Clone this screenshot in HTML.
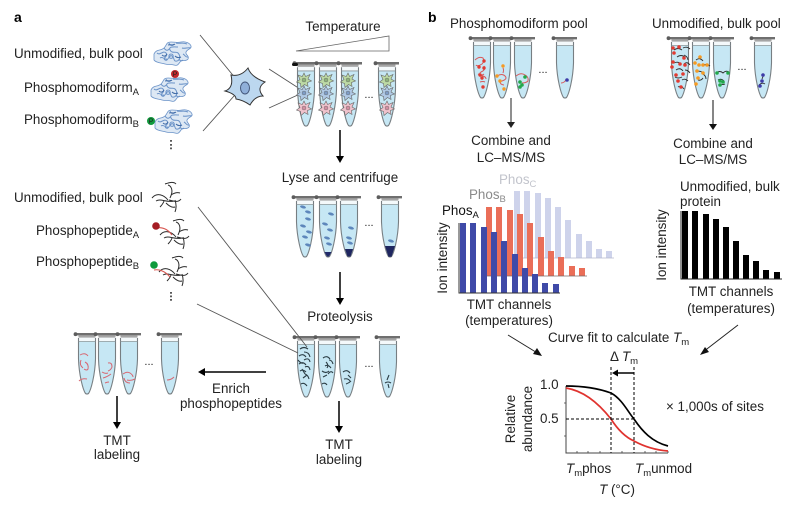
<!DOCTYPE html>
<html><head><meta charset="utf-8"><style>
html,body{margin:0;padding:0;background:#fff}
svg{display:block;filter:blur(.3px)}
text{font-family:"Liberation Sans",sans-serif;font-size:13.4px;fill:#222}
.m{text-anchor:middle}
.s{font-size:9.5px}
</style></head><body>
<svg width="797" height="511" viewBox="0 0 797 511" xmlns="http://www.w3.org/2000/svg">
<defs>
<g id="tube">
<path d="M-8.5,5V26C-8,42-4,57-1.5,60.5Q0,61.5 1.500,60.500C4,57 8,42 8.500,26V5Z" fill="#c6e7f4"/>
<rect x="-8" y="4" width="16" height="4.500" fill="#f4f9fb"/>
<path d="M-8.500,5V26C-8,42-4,57-1.500,60.500Q0,61.500 1.500,60.500C4,57 8,42 8.500,26V5" fill="none" stroke="#777e82" stroke-width="1.100"/>
<path d="M-8.500,8.500H8.500" stroke="#8a9599" stroke-width=".8"/>
<rect x="-11" y="0" width="23" height="2.400" fill="#6f6f6f"/>
<rect x="-8.500" y="2.400" width="17" height="2.200" fill="#a5a5a5"/>
<circle cx="-11.500" cy="1.200" r="1.900" fill="#5c5c5c"/>
</g>
<g id="prot" fill="none" stroke="#6b93c8" stroke-width="1">
<path d="M-19,2c2-5 7-3 10-6s2-6 7-6 6,1 10,0 9,1 10,4-4,3-5,6 4,4 2,7-6,0-8,3-3,4-6,3-6,0-9-1-9-1-11-4z" fill="#dde8f4" stroke-width=".8"/>
<path d="M-16,1c3,3 6-3 9,0s-4,5-1,7 4-6 7-4 1,6 5,5 3-6 1-8-6,1-8-3 5-3 8-3M-9,-4c2,3 4,3 6,0M5,8c2-1 3,2 5,0M-13,6c3-2 4,2 7,1M3,-9c3,1 7-1 11,1M-4,-9c1,3 4,3 5,1M9,-4c3,1 6-1 9,0M10,2c2,1 3,4 5,3M-2,2a2.200,2.200 0 1 0 .1,0"/>
<path d="M-11,3c2,2 4,1 5,-1M2,4c2,2 4,2 6,1M-5,-7c3,-1 5,1 7,-1" stroke="#3f6aa6"/>
</g>
<g id="pep" fill="none" stroke="#2b2b2b" stroke-width="1">
<path d="M-16,0c5-6 12-3 16,2M-12,3c5-3 10,2 18,0M0,-13c3,1 6,5 2,13M-3,-14c3-1 8-3 11,0M3,-3c3-2 6-3 9,-2M1,2c5,1 9,3 12,-1M-2,5c3,3 6,5 9,4M7,2c1,3 2,7 0,12M-4,3c-1,3-2,4-4,6"/>
</g>
<g id="cellg"><path d="M0,-7L1.600,-3.500 6,-5.500 4,-1 7.500,1 3.500,2.500 4,6.500 0.500,4.500-3,7.500-3.500,3.500-7.500,2-4,-0.500-6,-5-1.800,-3.500Z" fill="#bcd9a4" stroke="#666" stroke-width=".6"/><circle r="2" fill="#8fb47a" stroke="#666" stroke-width=".4"/></g>
<g id="cellb"><path d="M0,-7L1.600,-3.500 6,-5.500 4,-1 7.500,1 3.500,2.500 4,6.500 0.500,4.500-3,7.500-3.500,3.500-7.500,2-4,-0.500-6,-5-1.800,-3.500Z" fill="#afc8e4" stroke="#666" stroke-width=".6"/><circle r="2" fill="#7e9cc6" stroke="#666" stroke-width=".4"/></g>
<g id="cellr"><path d="M0,-7L1.600,-3.500 6,-5.500 4,-1 7.500,1 3.500,2.500 4,6.500 0.500,4.500-3,7.500-3.500,3.500-7.500,2-4,-0.500-6,-5-1.800,-3.500Z" fill="#efc2cc" stroke="#666" stroke-width=".6"/><circle r="2" fill="#d38fa2" stroke="#666" stroke-width=".4"/></g>
<g id="cells"><use href="#cellg" y="18"/><use href="#cellb" y="31"/><use href="#cellr" y="46"/></g>
<ellipse id="blob" rx="3" ry="1.400" fill="#5d86bb" transform="rotate(15)"/>
</defs>

<text x="14" y="22" style="font-size:14px;font-weight:bold;fill:#000">a</text>
<text x="428" y="22" style="font-size:14px;font-weight:bold;fill:#000">b</text>

<!-- panel a left labels -->
<text x="14" y="58">Unmodified, bulk pool</text>
<text x="24" y="92">Phosphomodiform<tspan class="s" dy="3">A</tspan></text>
<text x="24" y="124">Phosphomodiform<tspan class="s" dy="3">B</tspan></text>
<use href="#prot" x="173" y="52"/>
<use href="#prot" x="170" y="88"/>
<use href="#prot" x="174" y="120"/>
<circle cx="175" cy="74" r="4" fill="#c1272d"/>
<circle cx="151" cy="121" r="4" fill="#109a3c"/>
<text x="175" y="76.500" class="m" style="font-size:7px">P</text>
<text x="151" y="123.500" class="m" style="font-size:7px">P</text>
<path d="M171,140v1.800M171,144v1.800M171,147.500v1.800" stroke="#222" stroke-width="1.500"/>

<!-- cell -->
<path d="M200,35L236,79M203,131L234,96M269,69L300,89M269,108L300,94" stroke="#555" stroke-width=".9" fill="none"/>
<path d="M248,68Q251,77 265,82Q256,88 263,96Q255,96 250,105Q243,100 236,99Q236,94 225,91Q234,88 231,75Q241,77 248,68Z" fill="#bcd7ef" stroke="#333" stroke-width="1"/>
<ellipse cx="245" cy="88" rx="4.500" ry="6" fill="#8fafd9" stroke="#44577a"/>

<!-- temperature -->
<text x="343" y="31" class="m">Temperature</text>
<path d="M296,51L389,36V51Z" fill="#fff" stroke="#666" stroke-width=".8"/>
<g transform="translate(0,62) scale(1,1.050)"><use href="#tube" x="306"/><use href="#tube" x="328"/><use href="#tube" x="350"/><use href="#tube" x="387"/></g>
<rect x="292" y="63" width="6" height="3" rx="1.500" fill="#111"/>
<g transform="translate(0,62)"><use href="#cells" x="304"/><use href="#cells" x="326"/><use href="#cells" x="348"/><use href="#cells" x="387"/></g>
<text x="369" y="98" class="m" style="font-size:11px">...</text>

<path d="M340,130V158" stroke="#000" stroke-width="1.500"/><path d="M336,156L340,163 344,156Z" fill="#000"/>
<text x="340" y="182" class="m">Lyse and centrifuge</text>
<g transform="translate(0,196)"><use href="#tube" x="305"/><use href="#tube" x="328"/><use href="#tube" x="349"/><use href="#tube" x="390"/></g>
<g>
<use href="#blob" x="303" y="207"/><use href="#blob" x="308" y="212"/><use href="#blob" x="308" y="219"/><use href="#blob" x="303" y="226"/><use href="#blob" x="309" y="232"/><use href="#blob" x="305" y="237"/><use href="#blob" x="308" y="245"/>
<use href="#blob" x="331" y="214"/><use href="#blob" x="325" y="224"/><use href="#blob" x="330" y="230"/><use href="#blob" x="327" y="238"/><use href="#blob" x="329" y="244"/>
<use href="#blob" x="351" y="228"/><use href="#blob" x="349" y="238"/><use href="#blob" x="350" y="243"/>
<use href="#blob" x="391" y="241"/>
<path d="M324.500,252H331.500L329,256.500H327Z" fill="#222a6a"/>
<path d="M345,249H353L350.500,256.500H347.500Z" fill="#1f2660"/>
<path d="M385,246H395L391.500,256.800H388.500Z" fill="#1f2660"/>
</g>
<text x="369" y="226" class="m" style="font-size:11px">...</text>

<path d="M340,272V300" stroke="#000" stroke-width="1.500"/><path d="M336,298L340,305 344,298Z" fill="#000"/>
<text x="340" y="321" class="m">Proteolysis</text>
<g transform="translate(0,336)"><use href="#tube" x="306"/><use href="#tube" x="327"/><use href="#tube" x="348"/><use href="#tube" x="388"/></g>
<g fill="none" stroke="#2c3e46" stroke-width="1.100">
<path d="M300,349q4-3 8,0M304,352q5,0 6,5M299,356q4-3 7,1M304,360q5-3 6,2M299,364q4-3 7,1M305,367q4-2 5,3M300,371q3-2 6,1M305,374q3,1 4,5M301,384q3-2 6,2M298,360q3,4 6,3M303,378l4,-3M302,369l3,5"/>
<path d="M323,358q4-3 7,1M329,360q3,0 4,4M325,366q3-2 6,2M322,371q4,3 7,0M328,374q3-4 5,-1M322,384q3-2 5,1M326,362q3,3 1,6M323,377l4,-2"/>
<path d="M343,372q4-3 7,1M348,375l3,3M344,379q4-1 6,2M346,384q3-1 5,-3"/>
<path d="M389,375l-2,5M385,383q3-2 6,0M388,384l1,4"/>
</g>
<text x="369" y="367" class="m" style="font-size:11px">...</text>
<path d="M339,401V428" stroke="#000" stroke-width="1.500"/><path d="M335,426L339,433 343,426Z" fill="#000"/>
<text x="339" y="449" class="m">TMT</text>
<text x="339" y="464" class="m">labeling</text>

<!-- peptides -->
<text x="14" y="202">Unmodified, bulk pool</text>
<text x="36" y="235">Phosphopeptide<tspan class="s" dy="3">A</tspan></text>
<text x="36" y="266">Phosphopeptide<tspan class="s" dy="3">B</tspan></text>
<use href="#pep" x="168" y="198"/>
<use href="#pep" x="176" y="235"/>
<use href="#pep" x="175" y="272"/>
<path d="M156,228c5-1 11,0 16,7" fill="none" stroke="#d8554f" stroke-width="1.100"/>
<path d="M154,270c5-1 11,1 16,7" fill="none" stroke="#d8554f" stroke-width="1.100"/>
<circle cx="156" cy="226" r="3.800" fill="#a51d24"/>
<circle cx="154" cy="265" r="3.800" fill="#109a3c"/>
<path d="M171,292v1.800M171,295.500v1.800M171,299v1.800" stroke="#222" stroke-width="1.500"/>
<path d="M198,207L307,347M197,304L298,353" stroke="#555" stroke-width=".9" fill="none"/>

<!-- enrich -->
<g transform="translate(0,333)"><use href="#tube" x="87"/><use href="#tube" x="107"/><use href="#tube" x="129"/><use href="#tube" x="170"/></g>
<g fill="none" stroke="#d86670" stroke-width="1">
<path d="M80,355q5-3 8,1M81,360q-2,5 2,8M85,362q4,2 3,7q-1,2-4,0M79,381q3-3 8-2"/>
<path d="M108,363q4-1 4,4q-1,3-4,4M102,372q3,2 6,1M103,378q4,-1 8,-4M105,383q2-1 4-1"/>
<path d="M123,374q4-3 7-1q3,2 3,4M124,378q1,5 6,5M127,380q4,1 8-1"/>
<path d="M167,380q4,0 7-3"/>
</g>
<text x="149" y="365" class="m" style="font-size:11px">...</text>
<path d="M266,372H203" stroke="#000" stroke-width="1.500"/><path d="M205,368L198,372 205,376Z" fill="#000"/>
<text x="231" y="393" class="m">Enrich</text>
<text x="231" y="408" class="m">phosphopeptides</text>
<path d="M117,396V424" stroke="#000" stroke-width="1.500"/><path d="M113,422L117,429 121,422Z" fill="#000"/>
<text x="117" y="445" class="m">TMT</text>
<text x="117" y="459" class="m">labeling</text>

<!-- panel b tubes -->
<text x="450" y="28">Phosphomodiform pool</text>
<g transform="translate(0,37)"><use href="#tube" x="482"/><use href="#tube" x="502"/><use href="#tube" x="523"/><use href="#tube" x="565"/></g>
<g fill="none" stroke="#d8595a" stroke-width="1">
<path d="M475,60q4-4 8-2q2,3-1,6q-5,3-6,1M484,66q2,4-3,6q-3,2 2,4q3,1 3,3M478,74q4,2 6,0M480,82q3-1 5,0"/>
<path d="M497,76q5-3 8,0q3,3-3,5q-3,0-1,3q2,1 3,1M503,68q1,2 0,5"/>
<path d="M516,76q5-4 9-1q4,2 3,6q-2,2-6,2"/>
<path d="M561,83q3,0 5,-3"/>
</g>
<g fill="#e13b32"><circle cx="484" cy="61" r="1.700"/><circle cx="479" cy="67" r="1.700"/><circle cx="484" cy="68" r="1.700"/><circle cx="480" cy="75" r="1.700"/><circle cx="482" cy="78" r="1.700"/><circle cx="483" cy="87" r="1.700"/></g>
<g fill="#f59a23"><circle cx="503" cy="66" r="1.700"/><circle cx="497" cy="76" r="1.700"/><circle cx="500" cy="81" r="1.700"/><circle cx="504" cy="89" r="1.700"/></g>
<g fill="#22a84a"><circle cx="525" cy="77" r="1.800"/><circle cx="520" cy="82" r="1.800"/><circle cx="520" cy="87" r="1.800"/><circle cx="522" cy="85" r="1.800"/></g>
<circle cx="567" cy="80" r="1.800" fill="#3d3ba8"/>
<text x="543" y="73" class="m" style="font-size:11px">...</text>
<path d="M511,98V124" stroke="#333" stroke-width="1.100"/><path d="M507,122L511,128 515,122Z" fill="#222"/>
<text x="511" y="145" class="m">Combine and</text>
<text x="511" y="162" class="m">LC–MS/MS</text>

<text x="652" y="28">Unmodified, bulk pool</text>
<g transform="translate(0,37)"><use href="#tube" x="680"/><use href="#tube" x="701"/><use href="#tube" x="722"/><use href="#tube" x="763"/></g>
<g fill="none" stroke="#2b2b2b" stroke-width=".9">
<path d="M674,50q4-3 8,0M683,48q4-2 7,1M677,57q4-3 8,0M684,55q4,2 4,5M674,63q4-2 7,1M684,64q3-3 6,1M676,70q4-3 7,1M685,70q3,0 5,3M675,77q3,2 7,0M682,80q3-2 6,1M678,87q3-2 6,2"/>
<path d="M696,60q4-3 7,1M702,66q4-3 8,0M696,72q4-2 7,1M703,74q3,2 3,5M698,80q3,1 5,-2"/>
<path d="M716,73q4-3 7,0q3-3 6,-1M718,80q3-2 6,1M721,84q2,1 4,0"/>
<path d="M762,79l2,-5M759,85q3-3 6,-1"/>
</g>
<g fill="#e13b32"><circle cx="673" cy="48" r="1.800"/><circle cx="679" cy="47" r="1.800"/><circle cx="674" cy="53" r="1.800"/><circle cx="673" cy="62" r="1.800"/><circle cx="684" cy="58" r="1.800"/><circle cx="672" cy="67" r="1.800"/><circle cx="680" cy="64" r="1.800"/><circle cx="685" cy="65" r="1.800"/><circle cx="676" cy="75" r="1.800"/><circle cx="683" cy="74" r="1.800"/><circle cx="678" cy="81" r="1.800"/><circle cx="681" cy="87" r="1.800"/></g>
<g fill="#f59a23"><circle cx="700" cy="57" r="1.800"/><circle cx="695" cy="63" r="1.800"/><circle cx="699" cy="65" r="1.800"/><circle cx="703" cy="65" r="1.800"/><circle cx="707" cy="65" r="1.800"/><circle cx="697" cy="71" r="1.800"/><circle cx="703" cy="73" r="1.800"/><circle cx="698" cy="78" r="1.800"/><circle cx="696" cy="84" r="1.800"/></g>
<g fill="#22a84a"><circle cx="717" cy="73" r="1.800"/><circle cx="728" cy="73" r="1.800"/><circle cx="720" cy="81" r="1.800"/><circle cx="723" cy="82" r="1.800"/><circle cx="720" cy="85" r="1.800"/></g>
<g fill="#3d3ba8"><circle cx="763" cy="75" r="1.800"/><circle cx="762" cy="81" r="1.800"/><circle cx="760" cy="86" r="1.800"/></g>
<text x="742" y="70" class="m" style="font-size:11px">...</text>
<path d="M713,100V126" stroke="#222" stroke-width="1.100"/><path d="M709,124L713,130 717,124Z" fill="#111"/>
<text x="713" y="148" class="m">Combine and</text>
<text x="713" y="164" class="m">LC–MS/MS</text>

<!-- Bars C -->
<g fill="#ced3eb">
<rect x="514" y="191" width="6" height="67"/><rect x="524" y="191" width="6" height="67"/><rect x="535" y="193" width="6" height="65"/><rect x="545" y="198" width="6" height="60"/><rect x="555" y="207" width="6" height="51"/><rect x="565" y="220" width="6" height="38"/><rect x="576" y="234" width="6" height="24"/><rect x="586" y="241" width="6" height="17"/><rect x="596" y="249" width="6" height="9"/><rect x="606" y="251" width="6" height="7"/>
</g>
<path d="M512,258H614" stroke="#b5b9cc" stroke-width=".8"/>
<text x="499" y="184" style="fill:#c2c4cc">Phos<tspan class="s" dy="3" style="fill:#c2c4cc">C</tspan></text>
<!-- Bars B -->
<g fill="#ea6e58">
<rect x="486" y="207" width="6" height="69"/><rect x="496" y="207" width="6" height="69"/><rect x="507" y="210" width="6" height="66"/><rect x="517" y="214" width="6" height="62"/><rect x="527" y="223" width="6" height="53"/><rect x="538" y="237" width="6" height="39"/><rect x="548" y="251" width="6" height="25"/><rect x="558" y="257" width="6" height="19"/><rect x="569" y="266" width="6" height="10"/><rect x="579" y="268" width="6" height="8"/>
</g>
<path d="M486,276H587" stroke="#7a6a66" stroke-width=".8"/>
<text x="469" y="199" style="fill:#8a8a8a">Phos<tspan class="s" dy="3" style="fill:#8a8a8a">B</tspan></text>
<!-- Bars A -->
<g fill="#3f4aa8">
<rect x="460" y="223" width="6" height="70"/><rect x="470" y="223" width="6" height="70"/><rect x="481" y="227" width="6" height="66"/><rect x="491" y="232" width="6" height="61"/><rect x="501" y="241" width="6" height="52"/><rect x="512" y="254" width="6" height="39"/><rect x="522" y="268" width="6" height="25"/><rect x="532" y="274" width="6" height="19"/><rect x="542" y="283" width="6" height="10"/><rect x="553" y="284" width="6" height="9"/>
</g>
<path d="M459,223V293H560" stroke="#333" stroke-width="1" fill="none"/>
<text x="442" y="215" style="fill:#111">Phos<tspan class="s" dy="3" style="fill:#111">A</tspan></text>
<text transform="translate(447,258) rotate(-90)" class="m">Ion intensity</text>
<text x="509" y="309" class="m">TMT channels</text>
<text x="509" y="325" class="m">(temperatures)</text>

<!-- Black bars -->
<text x="680" y="191">Unmodified, bulk</text>
<text x="680" y="206">protein</text>
<g fill="#000">
<rect x="682" y="211" width="6" height="68"/><rect x="692" y="211" width="6" height="68"/><rect x="703" y="214" width="6" height="65"/><rect x="713" y="219" width="6" height="60"/><rect x="723" y="227" width="6" height="52"/><rect x="733" y="241" width="6" height="38"/><rect x="743" y="255" width="6" height="24"/><rect x="753" y="261" width="6" height="18"/><rect x="763" y="270" width="6" height="9"/><rect x="774" y="272" width="6" height="7"/>
</g>
<path d="M681,211V279H782" stroke="#222" stroke-width="1" fill="none"/>
<text transform="translate(666,245) rotate(-90)" class="m">Ion intensity</text>
<text x="731" y="296" class="m">TMT channels</text>
<text x="731" y="313" class="m">(temperatures)</text>

<!-- Curve -->
<text x="548" y="342">Curve fit to calculate <tspan style="font-style:italic">T</tspan><tspan class="s" dy="3">m</tspan></text>
<path d="M508,335L539,354" stroke="#222" stroke-width="1"/><path d="M542,356L533,354 537,348Z" fill="#111"/>
<path d="M738,325L703,352" stroke="#222" stroke-width="1"/><path d="M700,355L705,347 709,352Z" fill="#111"/>
<text x="610" y="361">Δ <tspan style="font-style:italic">T</tspan><tspan class="s" dy="3">m</tspan></text>
<path d="M634,373H617" stroke="#000" stroke-width="1.400"/><path d="M618,369.500L612,373 618,376.500Z" fill="#000"/>
<path d="M566,386V453H668" fill="none" stroke="#444" stroke-width="1"/>
<path d="M566,403h-2M566,436h-2M577,453v-2M588,453v-2M600,453v-2M622,453v-2M645,453v-2M656,453v-2M668,453v-2" stroke="#444" stroke-width=".8"/>
<path d="M566,388C585,391 600,405 611,419C618,430 625,437 634,441C645,447 655,450 668,451" fill="none" stroke="#e0332f" stroke-width="1.700"/>
<path d="M566,386C585,386 600,389 611,393C622,399 628,412 634,419C642,431 652,442 668,446" fill="none" stroke="#000" stroke-width="1.700"/>
<path d="M611,367V453M634,367V453M566,419H634" fill="none" stroke="#000" stroke-width="1" stroke-dasharray="3 2"/>
<text x="540" y="389">1.0</text>
<text x="540" y="423">0.5</text>
<text transform="translate(515,419) rotate(-90)" class="m">Relative</text>
<text transform="translate(532,419) rotate(-90)" class="m">abundance</text>
<text x="666" y="411">× 1,000s of sites</text>
<text x="566" y="473"><tspan style="font-style:italic">T</tspan><tspan class="s" dy="3">m</tspan><tspan dy="-3">phos</tspan></text>
<text x="635" y="473"><tspan style="font-style:italic">T</tspan><tspan class="s" dy="3">m</tspan><tspan dy="-3">unmod</tspan></text>
<text x="617" y="494" class="m"><tspan style="font-style:italic">T</tspan> (°C)</text>
</svg>
</body></html>
